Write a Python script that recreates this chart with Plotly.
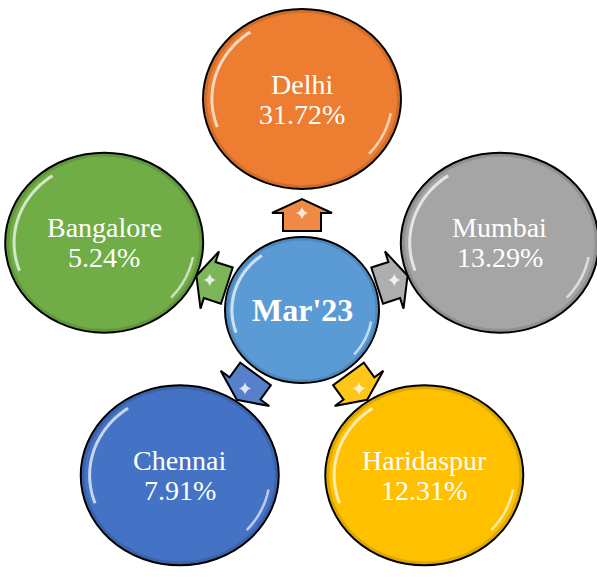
import numpy as np
import plotly.graph_objects as go

center_label = "Mar'23"
cities = ["Delhi", "Mumbai", "Haridaspur", "Chennai", "Bangalore"]
shares = [31.72, 13.29, 12.31, 7.91, 5.24]
colors = ["#ED7D31", "#A5A5A5", "#FFC000", "#4472C4", "#70AD47"]
center_color = "#5B9BD5"

W, H = 597, 580
CX, CY = 302, 307          # hub centre (pixels, y down)
ORBIT = 208                # distance hub -> node centre
NODE_RX, NODE_RY = 99, 90
HUB_RX, HUB_RY = 77, 73
ARROW_D = 95
FONT = "Liberation Serif"

fig = go.Figure()
shapes = []
annotations = []


def arc(cx, cy, rx, ry, a0, a1, n=40):
    t = np.radians(np.linspace(a0, a1, n))
    return cx + rx * np.cos(t), cy - ry * np.sin(t)


def add_gloss(cx, cy, rx, ry):
    for (a0, a1, w, op) in [(125, 200, 3, 0.7), (-10, -42, 2.5, 0.65)]:
        xs, ys = arc(cx, cy, rx * 0.91, ry * 0.91, a0, a1)
        fig.add_trace(go.Scatter(x=xs, y=ys, mode="lines",
                                 line=dict(color="white", width=w, shape="spline"),
                                 opacity=op, hoverinfo="skip", showlegend=False))
    xs, ys = arc(cx, cy, rx * 0.975, ry * 0.975, 0, 360, 120)
    fig.add_trace(go.Scatter(x=xs, y=ys, mode="lines",
                             line=dict(color="black", width=3),
                             opacity=0.12, hoverinfo="skip", showlegend=False))


def lighten(hexc, f):
    h = hexc.lstrip("#")
    r, g, b = int(h[0:2], 16), int(h[2:4], 16), int(h[4:6], 16)
    r = int(r + (255 - r) * f); g = int(g + (255 - g) * f); b = int(b + (255 - b) * f)
    return f"rgb({r},{g},{b})"


# hub circle
shapes.append(dict(type="circle", layer="below", xref="x", yref="y",
                   x0=CX - HUB_RX, x1=CX + HUB_RX, y0=CY + 3 - HUB_RY, y1=CY + 3 + HUB_RY,
                   fillcolor=center_color, line=dict(color="black", width=2)))
add_gloss(CX, CY + 3, HUB_RX, HUB_RY)
annotations.append(dict(x=CX, y=CY + 3, text=f"<b>{center_label}</b>", showarrow=False,
                        font=dict(family=FONT, size=32, color="white"),
                        xanchor="center", yanchor="middle"))

for i, (city, val, col) in enumerate(zip(cities, shares, colors)):
    ang = np.radians(90 - 72 * i)
    ux, uy = np.cos(ang), -np.sin(ang)   # pixel-space direction (y down)
    vx, vy = -uy, ux
    nx, ny = CX + ORBIT * ux, CY + ORBIT * uy
    shapes.append(dict(type="circle", layer="below", xref="x", yref="y",
                       x0=nx - NODE_RX, x1=nx + NODE_RX, y0=ny - NODE_RY, y1=ny + NODE_RY,
                       fillcolor=col, line=dict(color="black", width=2)))
    add_gloss(nx, ny, NODE_RX, NODE_RY)
    annotations.append(dict(x=nx, y=ny - 15, text=city, showarrow=False,
                            font=dict(family=FONT, size=28, color="white"),
                            xanchor="center", yanchor="middle"))
    annotations.append(dict(x=nx, y=ny + 15, text=f"{val:.2f}%", showarrow=False,
                            font=dict(family=FONT, size=28, color="white"),
                            xanchor="center", yanchor="middle"))
    ax, ay = CX + ARROW_D * ux, CY + 3 + ARROW_D * uy
    local = [(-16, -19), (2, -19), (2, -30), (16, 0), (2, 30), (2, 19), (-16, 19)]
    pts = [(ax + u * ux + v * vx, ay + u * uy + v * vy) for u, v in local]
    path = "M " + " L ".join(f"{px:.1f},{py:.1f}" for px, py in pts) + " Z"
    shapes.append(dict(type="path", layer="below", xref="x", yref="y", path=path,
                       fillcolor=lighten(col, 0.1), line=dict(color="black", width=2)))
    sx, sy = ax + 2 * ux, ay + 2 * uy
    fig.add_trace(go.Scatter(x=[sx], y=[sy], mode="markers",
                             marker=dict(symbol="star-diamond", size=9, color="white", opacity=0.8),
                             hoverinfo="skip", showlegend=False))

fig.update_layout(
    width=W, height=H, margin=dict(l=0, r=0, t=0, b=0),
    paper_bgcolor="white", plot_bgcolor="white",
    xaxis=dict(range=[0, W], visible=False, fixedrange=True),
    yaxis=dict(range=[H, 0], visible=False, fixedrange=True),
    shapes=shapes, annotations=annotations, showlegend=False,
)
fig.write_html("out.html", config={"displayModeBar": False},
               post_script="document.body.style.margin='0';document.body.style.overflow='hidden';")
